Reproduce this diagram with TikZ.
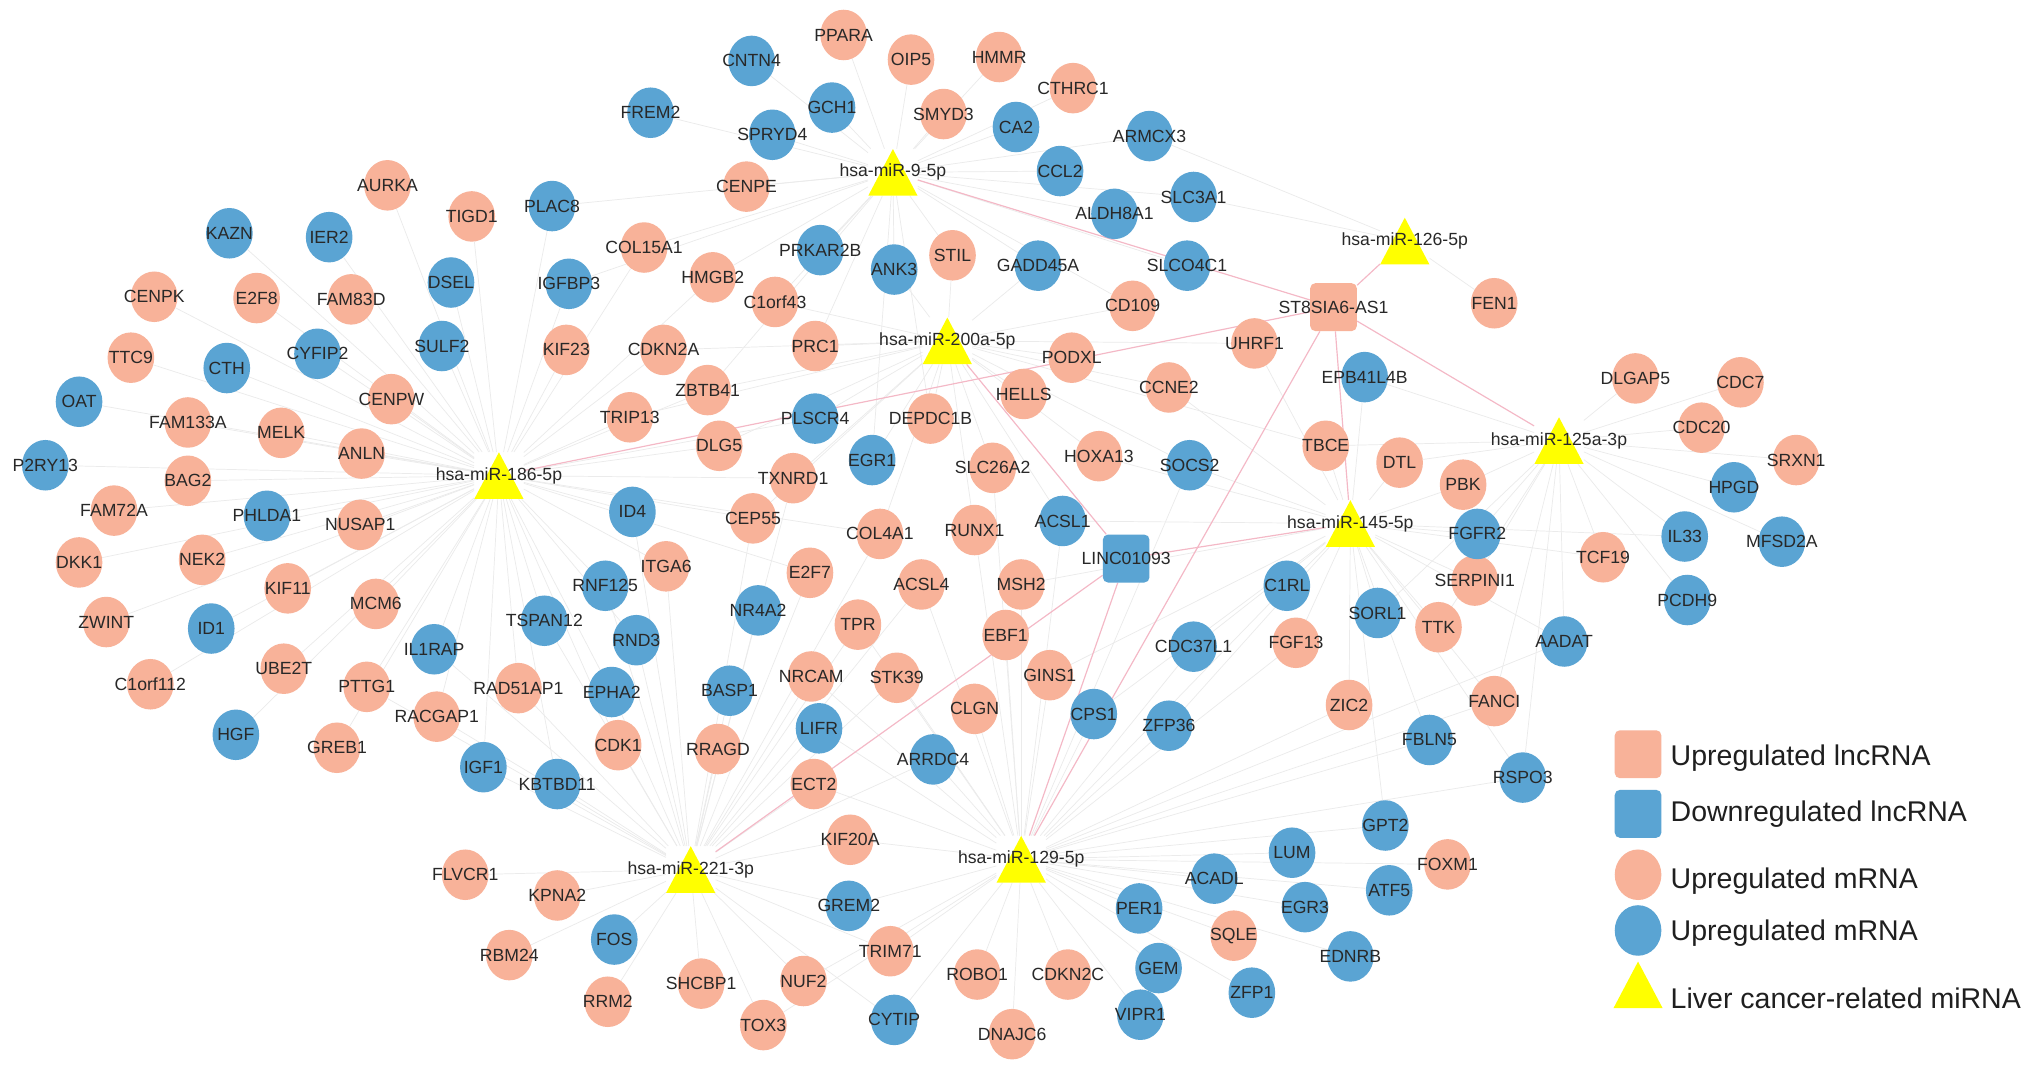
\documentclass[tikz,border=0pt]{standalone}
\usepackage{fontspec}
\setmainfont{Liberation Sans}
\usetikzlibrary{shapes.geometric}
\definecolor{upc}{RGB}{248,178,153}
\definecolor{dnc}{RGB}{90,164,211}
\definecolor{myel}{RGB}{255,255,0}
\definecolor{edgec}{RGB}{235,235,235}
\definecolor{pinkc}{RGB}{244,184,198}
\definecolor{txtc}{RGB}{40,40,40}
\pgfdeclarelayer{bg}
\pgfdeclarelayer{edges}
\pgfdeclarelayer{labels}
\pgfsetlayers{bg,edges,main,labels}
\tikzset{
  gnode/.style={ellipse, minimum width=36pt, minimum height=39pt, inner sep=0pt, draw=none},
  upn/.style={gnode, fill=upc},
  dnn/.style={gnode, fill=dnc},
  sqnode/.style={rectangle, rounded corners=4pt, minimum width=36pt, minimum height=37pt, inner sep=0pt, draw=none},
  mir/.style={rectangle, minimum width=38pt, minimum height=36pt, inner sep=0pt, draw=none,
    path picture={\fill[myel] (path picture bounding box.south west) -- (path picture bounding box.south east) -- (path picture bounding box.north) -- cycle;}},
  lbl/.style={font=\fontsize{13.6}{13.6}\selectfont, text=txtc, inner sep=0pt},
  edge/.style={draw=edgec, line width=0.55pt},
  pinkedge/.style={draw=pinkc, line width=0.9pt},
  legtext/.style={font=\fontsize{22}{22}\selectfont, text=black!88, anchor=west, inner sep=0pt},
}
\newcommand\NodeUp[3]{\node[upn] (#1) at (#2,-#3) {};\begin{pgfonlayer}{labels}\node[lbl] at (#2,-#3) {#1};\end{pgfonlayer}}
\newcommand\NodeDn[3]{\node[dnn] (#1) at (#2,-#3) {};\begin{pgfonlayer}{labels}\node[lbl] at (#2,-#3) {#1};\end{pgfonlayer}}
\newcommand\NodeMi[4]{\node[mir] (#1) at (#2,-#3) {};\begin{pgfonlayer}{labels}\node[lbl] at (#2,-#3) {#4};\end{pgfonlayer}}
\begin{document}
\begin{tikzpicture}[x=1pt,y=1pt]
\useasboundingbox (0,0) rectangle (1568,-827);
\begin{pgfonlayer}{bg}\fill[white] (0,0) rectangle (1568,-827);\end{pgfonlayer}
% ---------- upregulated mRNA ----------
\NodeUp{PPARA}{651}{27}
\NodeUp{OIP5}{703}{46}
\NodeUp{HMMR}{771}{44}
\NodeUp{CTHRC1}{828}{68}
\NodeUp{SMYD3}{728}{88}
\NodeUp{CENPE}{576}{144}
\NodeUp{AURKA}{299}{143}
\NodeUp{TIGD1}{364}{167}
\NodeUp{COL15A1}{497}{191}
\NodeUp{STIL}{735}{197}
\NodeUp{HMGB2}{550}{214}
\NodeUp{CENPK}{119}{229}
\NodeUp{E2F8}{198}{230}
\NodeUp{FAM83D}{271}{231}
\NodeUp{C1orf43}{598}{233}
\NodeUp{CD109}{874}{236}
\NodeUp{FEN1}{1153}{234}
\NodeUp{UHRF1}{968}{265}
\NodeUp{CDKN2A}{512}{270}
\NodeUp{KIF23}{437}{270}
\NodeUp{TTC9}{101}{276}
\NodeUp{PRC1}{629}{267}
\NodeUp{PODXL}{827}{276}
\NodeUp{DLGAP5}{1262}{292}
\NodeUp{CDC7}{1343}{295}
\NodeUp{CENPW}{302}{308}
\NodeUp{ZBTB41}{546}{301}
\NodeUp{HELLS}{790}{304}
\NodeUp{CCNE2}{902}{299}
\NodeUp{FAM133A}{145}{326}
\NodeUp{MELK}{217}{334}
\NodeUp{TRIP13}{486}{322}
\NodeUp{DEPDC1B}{718}{323}
\NodeUp{CDC20}{1313}{330}
\NodeUp{ANLN}{279}{350}
\NodeUp{DLG5}{555}{344}
\NodeUp{TBCE}{1023}{344}
\NodeUp{DTL}{1080}{357}
\NodeUp{SRXN1}{1386}{355}
\NodeUp{BAG2}{145}{371}
\NodeUp{TXNRD1}{612}{369}
\NodeUp{SLC26A2}{766}{361}
\NodeUp{HOXA13}{848}{352}
\NodeUp{PBK}{1129}{374}
\NodeUp{FAM72A}{88}{394}
\NodeUp{NUSAP1}{278}{405}
\NodeUp{CEP55}{581}{400}
\NodeUp{RUNX1}{752}{409}
\NodeUp{DKK1}{61}{434}
\NodeUp{NEK2}{156}{432}
\NodeUp{COL4A1}{679}{412}
\NodeUp{ITGA6}{514}{437}
\NodeUp{E2F7}{625}{442}
\NodeUp{TCF19}{1237}{430}
\NodeUp{SERPINI1}{1138}{448}
\NodeUp{KIF11}{222}{454}
\NodeUp{ACSL4}{711}{451}
\NodeUp{MSH2}{788}{451}
\NodeUp{MCM6}{290}{466}
\NodeUp{ZWINT}{82}{480}
\NodeUp{TPR}{662}{482}
\NodeUp{EBF1}{776}{490}
\NodeUp{TTK}{1110}{484}
\NodeUp{FGF13}{1000}{496}
\NodeUp{UBE2T}{219}{516}
\NodeUp{C1orf112}{116}{528}
\NodeUp{PTTG1}{283}{530}
\NodeUp{RAD51AP1}{400}{531}
\NodeUp{NRCAM}{626}{522}
\NodeUp{STK39}{692}{523}
\NodeUp{GINS1}{810}{521}
\NodeUp{CLGN}{752}{547}
\NodeUp{ZIC2}{1041}{544}
\NodeUp{FANCI}{1153}{541}
\NodeUp{RACGAP1}{337}{553}
\NodeUp{GREB1}{260}{577}
\NodeUp{CDK1}{477}{575}
\NodeUp{RRAGD}{554}{578}
\NodeUp{ECT2}{628}{605}
\NodeUp{KIF20A}{656}{648}
\NodeUp{FOXM1}{1117}{667}
\NodeUp{FLVCR1}{359}{675}
\NodeUp{KPNA2}{430}{691}
\NodeUp{SQLE}{952}{722}
\NodeUp{TRIM71}{687}{734}
\NodeUp{RBM24}{393}{737}
\NodeUp{CDKN2C}{824}{752}
\NodeUp{ROBO1}{754}{752}
\NodeUp{SHCBP1}{541}{759}
\NodeUp{NUF2}{620}{757}
\NodeUp{RRM2}{469}{773}
\NodeUp{TOX3}{589}{791}
\NodeUp{DNAJC6}{781}{798}
% ---------- downregulated mRNA ----------
\NodeDn{CNTN4}{580}{47}
\NodeDn{FREM2}{502}{87}
\NodeDn{GCH1}{642}{83}
\NodeDn{CA2}{784}{98}
\NodeDn{ARMCX3}{887}{105}
\NodeDn{SPRYD4}{596}{104}
\NodeDn{CCL2}{818}{132}
\NodeDn{SLC3A1}{921}{152}
\NodeDn{PLAC8}{426}{159}
\NodeDn{ALDH8A1}{860}{165}
\NodeDn{KAZN}{177}{180}
\NodeDn{IER2}{254}{183}
\NodeDn{PRKAR2B}{633}{193}
\NodeDn{ANK3}{690}{208}
\NodeDn{GADD45A}{801}{205}
\NodeDn{SLCO4C1}{916}{205}
\NodeDn{DSEL}{348}{218}
\NodeDn{IGFBP3}{439}{219}
\NodeDn{SULF2}{341}{267}
\NodeDn{CYFIP2}{245}{273}
\NodeDn{CTH}{175}{284}
\NodeDn{EPB41L4B}{1053}{291}
\NodeDn{OAT}{61}{310}
\NodeDn{PLSCR4}{629}{323}
\NodeDn{P2RY13}{35}{359}
\NodeDn{EGR1}{673}{355}
\NodeDn{SOCS2}{918}{359}
\NodeDn{HPGD}{1338}{376}
\NodeDn{PHLDA1}{206}{398}
\NodeDn{ID4}{488}{395}
\NodeDn{ACSL1}{820}{402}
\NodeDn{FGFR2}{1140}{412}
\NodeDn{IL33}{1300}{414}
\NodeDn{MFSD2A}{1375}{418}
\NodeDn{RNF125}{467}{452}
\NodeDn{C1RL}{993}{452}
\NodeDn{PCDH9}{1302}{463}
\NodeDn{TSPAN12}{420}{479}
\NodeDn{NR4A2}{585}{471}
\NodeDn{SORL1}{1063}{473}
\NodeDn{ID1}{163}{485}
\NodeDn{RND3}{491}{494}
\NodeDn{AADAT}{1207}{495}
\NodeDn{CDC37L1}{921}{499}
\NodeDn{IL1RAP}{335}{501}
\NodeDn{EPHA2}{472}{534}
\NodeDn{BASP1}{563}{533}
\NodeDn{LIFR}{632}{562}
\NodeDn{CPS1}{844}{551}
\NodeDn{ZFP36}{902}{560}
\NodeDn{FBLN5}{1103}{571}
\NodeDn{HGF}{182}{567}
\NodeDn{IGF1}{373}{592}
\NodeDn{KBTBD11}{430}{605}
\NodeDn{ARRDC4}{720}{586}
\NodeDn{RSPO3}{1175}{600}
\NodeDn{GPT2}{1069}{637}
\NodeDn{LUM}{997}{658}
\NodeDn{ACADL}{937}{678}
\NodeDn{ATF5}{1072}{687}
\NodeDn{GREM2}{655}{699}
\NodeDn{PER1}{879}{701}
\NodeDn{EGR3}{1007}{700}
\NodeDn{FOS}{474}{725}
\NodeDn{EDNRB}{1042}{738}
\NodeDn{GEM}{894}{747}
\NodeDn{ZFP1}{966}{766}
\NodeDn{CYTIP}{690}{787}
\NodeDn{VIPR1}{880}{783}
% ---------- lncRNA ----------
\node[sqnode, fill=upc] (ST8) at (1029,-237) {};
\begin{pgfonlayer}{labels}\node[lbl] at (1029,-237) {ST8SIA6-AS1};\end{pgfonlayer}
\node[sqnode, fill=dnc] (LINC) at (869,-431) {};
\begin{pgfonlayer}{labels}\node[lbl] at (869,-431) {LINC01093};\end{pgfonlayer}
% ---------- miRNA ----------
\NodeMi{m9}{689}{133}{hsa-miR-9-5p}
\NodeMi{m126}{1084}{186}{hsa-miR-126-5p}
\NodeMi{m200}{731}{263}{hsa-miR-200a-5p}
\NodeMi{m125}{1203}{340}{hsa-miR-125a-3p}
\NodeMi{m186}{385}{367}{hsa-miR-186-5p}
\NodeMi{m145}{1042}{404}{hsa-miR-145-5p}
\NodeMi{m221}{533}{671}{hsa-miR-221-3p}
\NodeMi{m129}{788}{663}{hsa-miR-129-5p}
% ---------- edges ----------
\begin{pgfonlayer}{edges}
\foreach \n in {PPARA,CNTN4,OIP5,HMMR,CTHRC1,FREM2,GCH1,SMYD3,CA2,ARMCX3,SPRYD4,CCL2,CENPE,SLC3A1,ALDH8A1,STIL,PRKAR2B,ANK3,GADD45A,SLCO4C1,HMGB2,C1orf43,COL15A1,PLAC8,CD109,PRC1,IGFBP3,EGR1,DEPDC1B,ZBTB41}
  \draw[edge] (m9) -- (\n);
\foreach \n in {FEN1,SLC3A1,ARMCX3}
  \draw[edge] (m126) -- (\n);
\foreach \n in {CD109,PRC1,PODXL,HELLS,CCNE2,DEPDC1B,SLC26A2,HOXA13,PLSCR4,EGR1,TXNRD1,UHRF1,CDKN2A,ZBTB41,STIL,ANK3,GADD45A,C1orf43,RUNX1,COL4A1,ACSL1,SOCS2,CEP55,DLG5,TRIP13,TBCE}
  \draw[edge] (m200) -- (\n);
\foreach \n in {AURKA,TIGD1,KAZN,IER2,CENPK,E2F8,FAM83D,DSEL,IGFBP3,TTC9,CTH,CYFIP2,SULF2,KIF23,OAT,CENPW,FAM133A,MELK,TRIP13,P2RY13,ANLN,BAG2,FAM72A,PHLDA1,NUSAP1,ID4,DKK1,NEK2,KIF11,MCM6,ZWINT,ID1,C1orf112,UBE2T,PTTG1,IL1RAP,HGF,GREB1,RACGAP1,RAD51AP1,IGF1,TSPAN12,RNF125,ITGA6,DLG5,CDKN2A,ZBTB41,CEP55,PLAC8,COL15A1,HMGB2,KBTBD11,EPHA2,RND3,CDK1,TXNRD1,E2F7,COL4A1,PLSCR4}
  \draw[edge] (m186) -- (\n);
\foreach \n in {DLGAP5,CDC7,CDC20,SRXN1,HPGD,IL33,MFSD2A,PCDH9,TCF19,PBK,DTL,EPB41L4B,AADAT,FGFR2,SERPINI1,TTK,TBCE,FANCI,RSPO3,SORL1}
  \draw[edge] (m125) -- (\n);
\foreach \n in {TBCE,DTL,PBK,FGFR2,SERPINI1,C1RL,SORL1,TTK,FGF13,ZIC2,CDC37L1,FANCI,FBLN5,RSPO3,SOCS2,ACSL1,ZFP36,GPT2,EPB41L4B,UHRF1,CCNE2,HOXA13,AADAT,TCF19,IL33,MSH2,GINS1,CPS1}
  \draw[edge] (m145) -- (\n);
\foreach \n in {FLVCR1,KPNA2,FOS,RBM24,RRM2,SHCBP1,NUF2,TOX3,KBTBD11,IGF1,CDK1,RRAGD,EPHA2,RND3,BASP1,LIFR,ECT2,KIF20A,GREM2,NRCAM,NR4A2,TSPAN12,TPR,E2F7,ITGA6,RAD51AP1,RNF125,TRIM71,CYTIP,STK39,ARRDC4,ACSL4,RACGAP1,ID4,CEP55,COL4A1,TXNRD1,PTTG1,IL1RAP}
  \draw[edge] (m221) -- (\n);
\foreach \n in {GREM2,TRIM71,ROBO1,CDKN2C,CYTIP,DNAJC6,GEM,VIPR1,PER1,ACADL,SQLE,ZFP1,LUM,EGR3,EDNRB,ATF5,FOXM1,GPT2,CPS1,ZFP36,ARRDC4,CLGN,GINS1,EBF1,STK39,MSH2,ACSL4,KIF20A,CDC37L1,RSPO3,FBLN5,FANCI,NUF2,TOX3,LIFR,TPR,NRCAM,RUNX1,SLC26A2,ECT2,FGF13,ZIC2,C1RL,ACSL1,SOCS2,AADAT}
  \draw[edge] (m129) -- (\n);
% lncRNA - miRNA
\foreach \m in {m9,m126,m125,m145,m186,m129}
  \draw[pinkedge] (ST8) -- (\m);
\foreach \m in {m145,m129,m221,m200}
  \draw[pinkedge] (LINC) -- (\m);
\end{pgfonlayer}
% ---------- legend ----------
\node[sqnode, fill=upc] (lg1) at (1264,-582) {};
\node[sqnode, fill=dnc] (lg2) at (1264,-628) {};
\node[gnode, fill=upc] (lg3) at (1264,-675) {};
\node[gnode, fill=dnc] (lg4) at (1264,-718) {};
\node[mir] (lg5) at (1264,-760) {};
\node[legtext] (lt1) at (1289,-585) {Upregulated lncRNA};
\node[legtext] (lt2) at (1289,-628) {Downregulated lncRNA};
\node[legtext] (lt3) at (1289,-680) {Upregulated mRNA};
\node[legtext] (lt4) at (1289,-720) {Upregulated mRNA};
\node[legtext] (lt5) at (1289,-770) {Liver cancer-related miRNA};
\end{tikzpicture}
\end{document}
